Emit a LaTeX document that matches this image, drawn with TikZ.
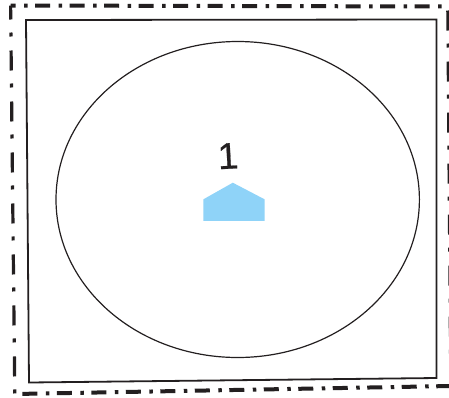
\documentclass[tikz,border=0pt]{standalone}
\usepackage{amsmath}
\usepackage{xcolor}
\usepackage{fontspec}
\setmainfont{Liberation Sans}
\newfontfamily\numfont[FakeBold=0.6]{Liberation Sans}
\usetikzlibrary{positioning}
\definecolor{inkdark}{HTML}{231F20}
\definecolor{roofblue}{HTML}{8FD3F8}
\tikzset{
    hdash/.style={draw=inkdark, line width=4pt, dash pattern=on 15pt off 8.5pt on 3.5pt off 7.5pt},
    vdash/.style={draw=inkdark, line width=3.2pt, dash pattern=on 20pt off 13pt on 4pt off 14pt},
    innerframe/.style={draw=inkdark, line width=1.8pt, line join=miter},
    roof/.style={fill=roofblue, draw=none},
}
\begin{document}
\begin{tikzpicture}[x=1pt, y=-1pt]
    \useasboundingbox (0,0) rectangle (449,397);
    % corners of the outer frame
    \coordinate (o1) at (10.6,5.5);
    \coordinate (o2) at (447.8,6.5);
    \coordinate (o3) at (450.8,386);
    \coordinate (o4) at (14.8,394);
    % corners of the inner frame
    \coordinate (f1) at (26,20);
    \coordinate (f2) at (436.5,19.5);
    \coordinate (f3) at (436.5,378);
    \coordinate (f4) at (29,382.5);

    \draw[hdash, dash phase=10pt] (o1) -- (o2);
    \draw[hdash, dash phase=27pt] (o4) -- (o3);
    \draw[vdash, dash phase=6pt] (o1) -- (o4);
    \draw[vdash, dash phase=47pt] (o2) -- (o3);
    \draw[innerframe] (f1) -- (f2) -- (f3) -- (f4) -- cycle;

    \coordinate (center) at (237.7,199.5);
    \draw[inkdark, line width=1.2pt] (center) ellipse [x radius=181.7, y radius=158];

    % the little house shape below the number
    \fill[roof] (203.4,199.3) -- (232.8,182.7) -- (264.6,199.3) -- (264.6,220.8) -- (203.4,220.8) -- cycle;
    \node [inkdark, inner sep=0pt, rotate=3] (one) at (228,156) {\fontsize{37}{37}\numfont 1};
\end{tikzpicture}
\end{document}
